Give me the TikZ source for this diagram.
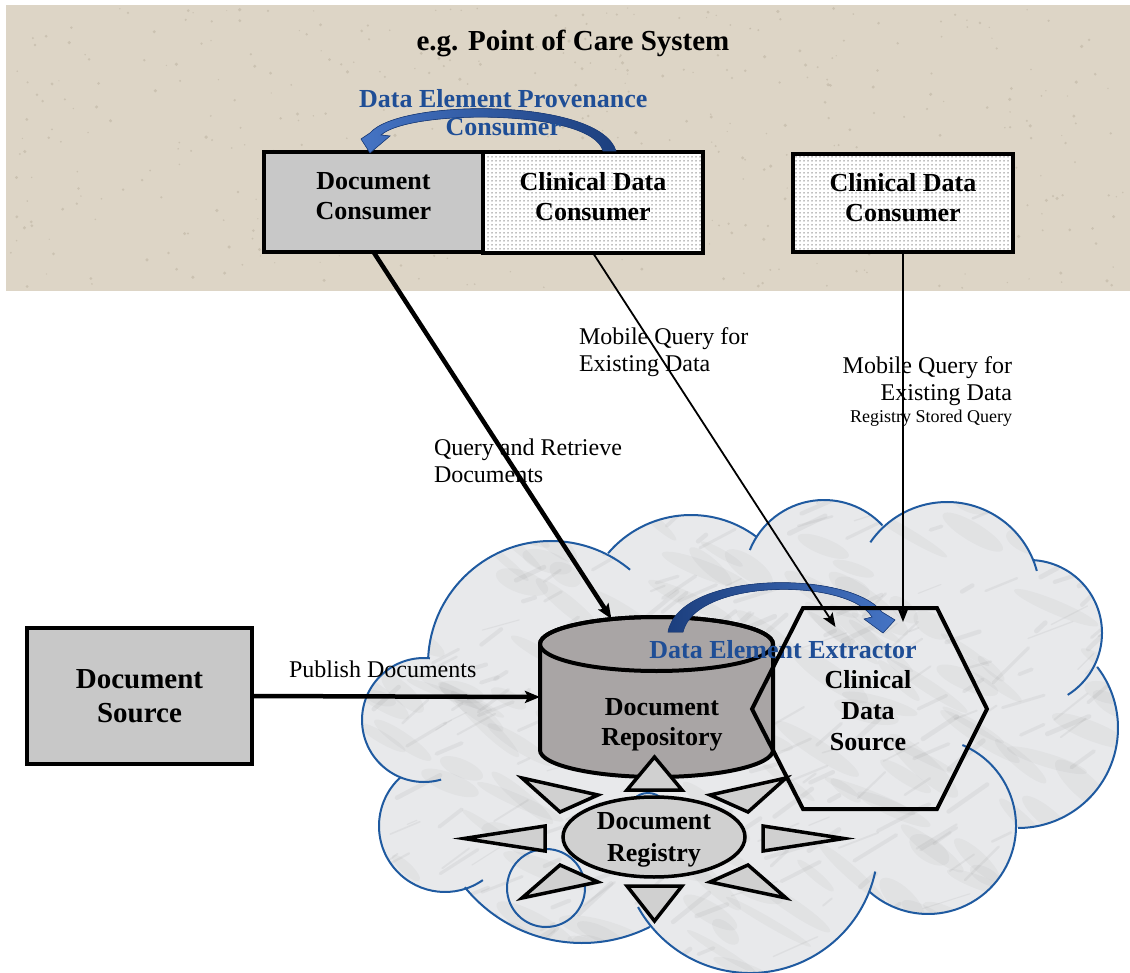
\documentclass[tikz,border=0pt]{standalone}
\usepackage{fontspec}
\setmainfont{Liberation Serif}
\usetikzlibrary{arrows.meta,calc,patterns,patterns.meta,shapes.geometric}

\definecolor{sandbg}{HTML}{DDD5C6}
\definecolor{speck}{HTML}{8C7F6A}
\definecolor{boxgray}{HTML}{C8C8C8}
\definecolor{repogray}{HTML}{A9A5A5}
\definecolor{reggray}{HTML}{D0D0D0}
\definecolor{marble}{HTML}{E8E9EB}
\definecolor{cloudblue}{HTML}{1F5AA0}
\definecolor{labelblue}{HTML}{1F4E96}
\definecolor{arrowdark}{HTML}{1C3F7E}
\definecolor{arrowlight}{HTML}{4574C4}

\newcommand\dgBoxFont{\fontsize{26}{30}\selectfont\bfseries}
\newcommand\dgBigFont{\fontsize{29}{34}\selectfont\bfseries}
\newcommand\dgLblFont{\fontsize{24}{27.5}\selectfont}
\newcommand\dgSmallFont{\fontsize{18}{21}\selectfont}
\newcommand\dgBlueFont{\fontsize{26}{28.5}\selectfont\bfseries}

% fine dot screen used in the clinical data consumer boxes
\tikzdeclarepattern{
  name=dgdots,
  type=uncolored,
  bottom left={(-1pt,-1pt)},
  top right={(3pt,3pt)},
  tile size={(4pt,4pt)},
  code={\fill (0pt,0pt) circle[radius=0.75pt];}
}

% the cloud is the union of its bumps plus an inner ellipse
\newcommand\dgCloudShape{%
  (424,720) circle[radius=62]
  (551,664) circle[radius=123]
  (691,624) circle[radius=109]
  (824,580) circle[radius=80]
  (947,595) circle[radius=93]
  (1029,633) circle[radius=73]
  (1018,728) circle[radius=100]
  (928,826) circle[radius=88]
  (750,845) circle[radius=128]
  (582,792) circle[radius=151]
  (445,826) circle[radius=66]
  (750,720) ellipse[x radius=250, y radius=130]}
% one bump of the cloud outline: centre x, centre y, radius, start, end angle
\newcommand\dgCloudArc[5]{\draw[cloudline] (#1,#2) ++(#4:#3) arc[start angle=#4, end angle=#5, radius=#3];}

\begin{document}
\begin{tikzpicture}[x=1pt, y=-1pt,
  every node/.style={inner sep=0pt, outer sep=0pt},
  box/.style={draw, line width=4pt, align=center, font=\dgBoxFont, text depth=12pt},
  graybox/.style={box, fill=boxgray},
  dotbox/.style={box, preaction={fill=white}, pattern=dgdots, pattern color=black!50},
  lbl/.style={font=\dgLblFont, align=left},
  bluelbl/.style={font=\dgBlueFont, text=labelblue, align=center},
  cloudline/.style={draw=cloudblue, line width=2pt},
  ray/.style={fill=reggray, draw, line width=3.5pt, line join=miter},
  thickarrow/.style={line width=4.5pt, -{Stealth[length=15pt, width=12pt, inset=3pt]}},
  thinarrow/.style={line width=1.8pt, -{Stealth[length=14pt, width=11pt, inset=3pt]}}]

\useasboundingbox (0,0) rectangle (1130,973);

% ---------- point of care band ----------
\fill[sandbg] (6,5) rectangle (1130,291);
\pgfmathsetseed{11}
\foreach \k in {1,...,450}{
  \pgfmathsetmacro\px{10+1115*rnd}
  \pgfmathsetmacro\py{8+280*rnd}
  \pgfmathsetmacro\pr{0.6+1.2*rnd}
  \fill[speck, opacity=.22] (\px,\py) circle[radius=\pr];
}
\node[font=\dgBigFont, anchor=base] (title) at (573,51) {e.g. Point of Care System};

% ---------- marble cloud ----------
\fill[marble] \dgCloudShape;
\begin{scope}
  \clip \dgCloudShape;
  \pgfmathsetseed{5}
  \foreach \k in {1,...,140}{
    \pgfmathsetmacro\px{360+760*rnd}
    \pgfmathsetmacro\py{495+475*rnd}
    \pgfmathsetmacro\an{-45+30*rnd}
    \pgfmathsetmacro\rx{15+35*rnd}
    \pgfmathsetmacro\ry{4+8*rnd}
    \fill[black!55, opacity=.06, rotate around={\an:(\px,\py)}] (\px,\py) ellipse[x radius=\rx, y radius=\ry];
  }
  \foreach \k in {1,...,260}{
    \pgfmathsetmacro\px{360+760*rnd}
    \pgfmathsetmacro\py{495+475*rnd}
    \pgfmathsetmacro\an{-45+30*rnd}
    \pgfmathsetmacro\ln{10+40*rnd}
    \pgfmathsetmacro\wd{1+4*rnd}
    \draw[black!60, opacity=.08, line width=\wd pt, line cap=round] (\px,\py) -- ++(\an:\ln);
  }
\end{scope}
\dgCloudArc{424}{720}{62}{-84.5}{-286}
\dgCloudArc{551}{664}{123}{-177}{-50}
\dgCloudArc{691}{624}{109}{-139.5}{-52.8}
\dgCloudArc{824}{580}{80}{-158}{-43}
\dgCloudArc{947}{595}{93}{-145.5}{-15}
\dgCloudArc{1029}{633}{73}{-87}{58}
\dgCloudArc{1018}{728}{100}{-37.7}{90}
\dgCloudArc{928}{826}{88}{-67}{132}
\dgCloudArc{750}{845}{128}{12}{151}
\dgCloudArc{582}{792}{151}{63.3}{140.9}
\dgCloudArc{445}{826}{66}{227.4}{55}
\draw[cloudline] (546,888) circle[radius=39];
\draw[cloudline] (648,813) circle[radius=20];

% ---------- document repository (cylinder) ----------
\node[minimum width=233pt, minimum height=160pt] (repo) at (656.5,697) {};
\path[fill=repogray, draw, line width=4pt]
  (540,644) -- (540,750) arc[start angle=180, end angle=0, x radius=116.5, y radius=27]
  -- (773,644) arc[start angle=0, end angle=-180, x radius=116.5, y radius=27] -- cycle;
\draw[line width=4pt] (656.5,644) ellipse[x radius=116.5, y radius=27];
\node[font=\dgBoxFont, align=center, anchor=north] (repotext) at (662,698) {Document\\Repository};

% extractor block arrow from repository to clinical data source
\fill[left color=arrowdark, right color=arrowlight, draw=arrowdark, line width=0.6pt]
  (668,632) .. controls (680,570) and (850,570) .. (882,612)
  -- (895,620) -- (883,633) -- (864,619) -- (872,617)
  .. controls (848,578) and (696,578) .. (683,632) -- cycle;
\node[bluelbl, anchor=base] (extractor) at (783,658) {Data Element Extractor};

% ---------- clinical data source (hexagon) ----------
\node[minimum width=235pt, minimum height=201pt] (cds) at (869.5,708.5) {};
\draw[line width=4pt, line join=miter]
  (752,709) -- (803,608) -- (937,608) -- (987,709) -- (937,809) -- (803,809) -- cycle;
\node[font=\fontsize{26}{31}\selectfont\bfseries, align=center, anchor=north] (cdstext) at (868,670.5) {Clinical\\Data\\Source};

% ---------- document registry with its rays ----------
\path[ray] (627,790) -- (682,790) -- (654.5,757) -- cycle;
\path[ray] (627,886) -- (682,886) -- (654.5,921) -- cycle;
\path[ray] (545,826) -- (545,851) -- (464,838.5) -- cycle;
\path[ray] (763,826) -- (763,851) -- (844,838.5) -- cycle;
\path[ray] (522,778) -- (560,812) -- (598,795) -- cycle;
\path[ray] (786,778) -- (748,812) -- (710,795) -- cycle;
\path[ray] (522,898) -- (560,865) -- (598,882) -- cycle;
\path[ray] (786,898) -- (748,865) -- (710,882) -- cycle;
\node[ellipse, draw, line width=3.5pt, fill=reggray, minimum width=182pt, minimum height=80pt,
      font=\fontsize{26}{31.5}\selectfont\bfseries, align=center, text depth=0pt] (reg) at (654,837) {Document\\Registry};

% ---------- actor boxes ----------
\node[graybox, minimum width=219pt, minimum height=100pt] (dcons) at (373.5,202) {Document\\Consumer};
\node[dotbox, minimum width=220pt, minimum height=101pt] (cdcA) at (593,202.5) {Clinical Data\\Consumer};
\node[dotbox, minimum width=220pt, minimum height=98pt] (cdcB) at (903,203) {Clinical Data\\Consumer};
\node[graybox, font=\dgBigFont, text depth=0pt, minimum width=225pt, minimum height=136pt] (dsrc) at (139.5,696) {Document\\Source};

% provenance block arrow from clinical data consumer to document consumer
\fill[left color=arrowlight, right color=arrowdark, draw=arrowdark, line width=0.6pt]
  (616,151) .. controls (600,98) and (400,98) .. (370,133)
  -- (361,139) -- (370,153) -- (390,136) -- (381,135)
  .. controls (410,109) and (592,109) .. (603,151) -- cycle;
\node[bluelbl, anchor=north] (provenance) at (503.3,89) {Data Element Provenance\\Consumer};

% ---------- transactions ----------
\draw[thickarrow] (dcons.south) -- ($(repo.north)+(-45,2)$);
\draw[thickarrow] (dsrc.east) -- (repo.west);
\draw[thinarrow] (cdcA.south) -- ($(cds.north)+(-34,19)$);
\draw[thinarrow] (cdcB.south) -- ($(cds.north)+(33.5,14)$);

\node[lbl, anchor=north west] (mqA) at (579,327.6) {Mobile Query for\\Existing Data};
\node[lbl, anchor=north west] (qrd) at (434,438.6) {Query and Retrieve\\Documents};
\node[lbl, align=right, anchor=north east] (mqB) at (1012,356.6) {Mobile Query for\\Existing Data};
\node[font=\dgSmallFont, anchor=base east] (rsq) at (1012,423) {Registry Stored Query};
\node[font=\dgLblFont, anchor=base west] (pub) at (289,677) {Publish Documents};

\end{tikzpicture}
\end{document}
